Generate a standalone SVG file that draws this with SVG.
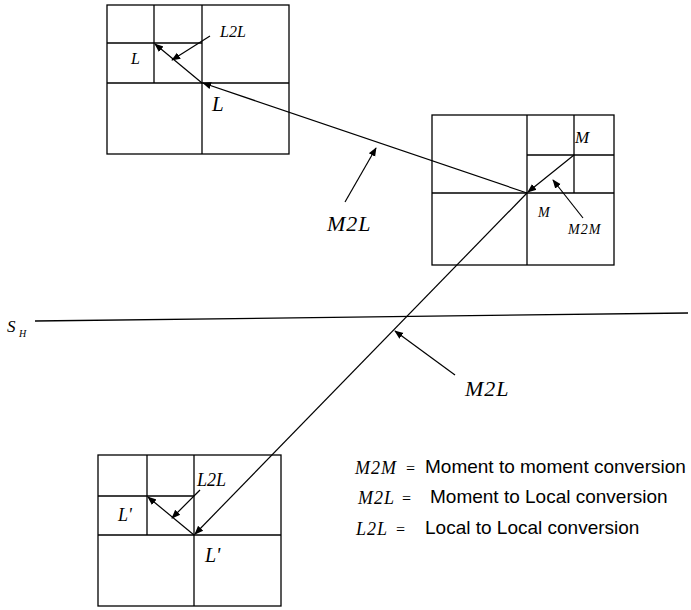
<svg xmlns="http://www.w3.org/2000/svg" width="691" height="610" viewBox="0 0 691 610">
<defs>
<marker id="ah" viewBox="0 0 10 10" refX="9" refY="5" markerWidth="9" markerHeight="9" markerUnits="userSpaceOnUse" orient="auto">
<path d="M0,1 L10,5 L0,9 Z" fill="#000"/>
</marker>
</defs>
<style>
.box{fill:none;stroke:#000;stroke-width:1.3}
.ln{stroke:#000;stroke-width:1.3;fill:none}
.con{stroke:#000;stroke-width:1.2;fill:none;marker-end:url(#ah)}
.it{font-family:"Liberation Serif",serif;font-style:italic;fill:#000}
.sans{font-family:"Liberation Sans",sans-serif;fill:#000;font-size:19px}
</style>
<rect width="691" height="610" fill="#fff"/>
<g id="box-top">
<rect class="box" x="107" y="5" width="182" height="149"/>
<line class="ln" x1="202" y1="5" x2="202" y2="154"/>
<line class="ln" x1="107" y1="83" x2="289" y2="83"/>
<line class="ln" x1="154" y1="5" x2="154" y2="83"/>
<line class="ln" x1="107" y1="43" x2="202" y2="43"/>
<text class="it" x="131" y="64" font-size="16">L</text>
<text class="it" x="212" y="111" font-size="21">L</text>
<text class="it" x="220" y="37" font-size="16">L2L</text>
</g>
<g id="box-mid">
<rect class="box" x="432" y="115" width="182" height="150"/>
<line class="ln" x1="527" y1="115" x2="527" y2="265"/>
<line class="ln" x1="432" y1="193" x2="614" y2="193"/>
<line class="ln" x1="574" y1="115" x2="574" y2="193"/>
<line class="ln" x1="527" y1="155" x2="614" y2="155"/>
<text class="it" x="575" y="143" font-size="17">M</text>
<text class="it" x="538" y="217" font-size="14">M</text>
<text class="it" x="568" y="234" font-size="14" letter-spacing="1">M2M</text>
</g>
<g id="box-bottom">
<rect class="box" x="98" y="455" width="183" height="151"/>
<line class="ln" x1="194" y1="455" x2="194" y2="606"/>
<line class="ln" x1="98" y1="535" x2="281" y2="535"/>
<line class="ln" x1="147" y1="455" x2="147" y2="535"/>
<line class="ln" x1="98" y1="496" x2="194" y2="496"/>
<text class="it" x="118" y="521" font-size="18">L'</text>
<text class="it" x="205" y="562" font-size="20">L'</text>
<text class="it" x="197" y="486" font-size="18">L2L</text>
</g>
<g id="separator">
<line class="ln" x1="35" y1="321" x2="688" y2="313" stroke-width="1.2"/>
<text class="it" x="7" y="332" font-size="17">S</text>
<text class="it" x="19" y="337" font-size="10">H</text>
</g>
<g id="connectors">
<line class="con" x1="527" y1="193" x2="203" y2="83"/>
<line class="con" x1="202" y1="83" x2="155" y2="44"/>
<line class="con" x1="210" y1="36" x2="172" y2="60"/>
<line class="con" x1="574" y1="155" x2="528" y2="192"/>
<line class="con" x1="583" y1="218" x2="553" y2="180"/>
<line class="con" x1="345" y1="202" x2="376" y2="148"/>
<line class="con" x1="527" y1="193" x2="195" y2="534"/>
<line class="con" x1="455" y1="375" x2="395" y2="331"/>
<line class="con" x1="194" y1="535" x2="148" y2="497"/>
<line class="con" x1="200" y1="490" x2="172" y2="518"/>
</g>
<g id="labels">
<text class="it" x="327" y="231" font-size="22" letter-spacing="1">M2L</text>
<text class="it" x="465" y="396" font-size="22" letter-spacing="1">M2L</text>
</g>
<g id="legend">
<text class="it" x="355" y="474" font-size="18" letter-spacing="1">M2M</text>
<text class="it" x="405" y="474" font-size="16">=</text>
<text class="sans" x="425" y="473">Moment to moment conversion</text>
<text class="it" x="358" y="504" font-size="18" letter-spacing="1">M2L</text>
<text class="it" x="401" y="504" font-size="16">=</text>
<text class="sans" x="430" y="503">Moment to Local conversion</text>
<text class="it" x="356" y="535" font-size="18" letter-spacing="1">L2L</text>
<text class="it" x="395" y="535" font-size="16">=</text>
<text class="sans" x="425" y="534">Local to Local conversion</text>
</g>
</svg>
